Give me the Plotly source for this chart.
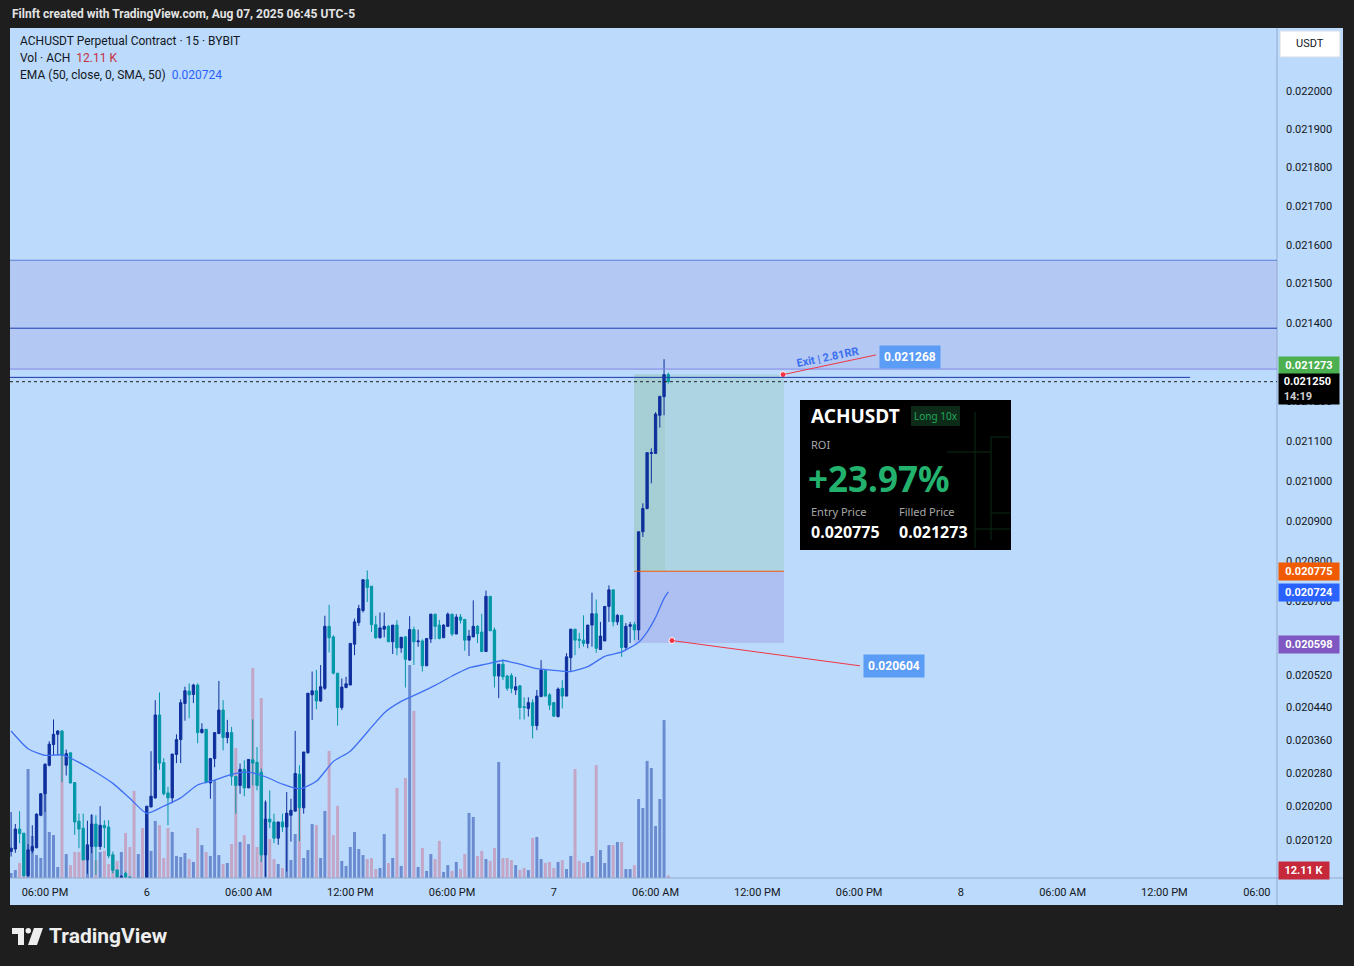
import math
import pandas as pd
import plotly.graph_objects as go

# ---- data (ACHUSDT perp, 15m, Bybit) ----
times = pd.date_range("2025-08-05 16:00", periods=156, freq="15min")

opens = [0.020092, 0.020098, 0.020146, 0.020136, 0.020034, 0.020094, 0.020101, 0.020179, 0.020231, 0.020300,
         0.020350, 0.020375, 0.020383, 0.020300, 0.020330, 0.020258, 0.020165, 0.020148, 0.020072, 0.020104,
         0.020158, 0.020104, 0.020155, 0.020151, 0.020084, 0.020048, 0.020029, 0.020040, 0.020031, 0.020018,
         0.020008, 0.020012, 0.020010, 0.020199, 0.020221, 0.020422, 0.020306, 0.020233, 0.020221, 0.020326,
         0.020362, 0.020450, 0.020480, 0.020472, 0.020495, 0.020379, 0.020387, 0.020257, 0.020316, 0.020377,
         0.020434, 0.020367, 0.020379, 0.020273, 0.020251, 0.020290, 0.020245, 0.020313, 0.020307, 0.020283,
         0.020084, 0.020170, 0.020163, 0.020124, 0.020163, 0.020151, 0.020179, 0.020189, 0.020278, 0.020197,
         0.020330, 0.020471, 0.020481, 0.020456, 0.020487, 0.020639, 0.020613, 0.020524, 0.020440, 0.020489,
         0.020495, 0.020595, 0.020648, 0.020678, 0.020754, 0.020738, 0.020643, 0.020611, 0.020632, 0.020639,
         0.020601, 0.020642, 0.020586, 0.020613, 0.020556, 0.020631, 0.020601, 0.020603, 0.020542, 0.020608,
         0.020669, 0.020642, 0.020611, 0.020639, 0.020669, 0.020620, 0.020662, 0.020656, 0.020605, 0.020613,
         0.020639, 0.020625, 0.020577, 0.020713, 0.020630, 0.020517, 0.020546, 0.020517, 0.020518, 0.020483,
         0.020493, 0.020442, 0.020438, 0.020452, 0.020396, 0.020467, 0.020530, 0.020471, 0.020452, 0.020418,
         0.020487, 0.020468, 0.020562, 0.020632, 0.020607, 0.020605, 0.020597, 0.020642, 0.020670, 0.020582,
         0.020603, 0.020688, 0.020729, 0.020650, 0.020666, 0.020587, 0.020639, 0.020643, 0.020630, 0.020873,
         0.020931, 0.021069, 0.021069, 0.021165, 0.021212, 0.021268]
highs = [0.020187, 0.020158, 0.020189, 0.020136, 0.020110, 0.020155, 0.020183, 0.020232, 0.020305, 0.020358,
         0.020411, 0.020385, 0.020385, 0.020338, 0.020330, 0.020258, 0.020183, 0.020183, 0.020166, 0.020182,
         0.020179, 0.020201, 0.020167, 0.020167, 0.020092, 0.020048, 0.020036, 0.020044, 0.020033, 0.020024,
         0.020022, 0.020025, 0.020201, 0.020334, 0.020458, 0.020477, 0.020317, 0.020248, 0.020327, 0.020375,
         0.020460, 0.020491, 0.020499, 0.020498, 0.020499, 0.020402, 0.020387, 0.020316, 0.020379, 0.020505,
         0.020458, 0.020410, 0.020393, 0.020273, 0.020304, 0.020312, 0.020314, 0.020411, 0.020344, 0.020292,
         0.020215, 0.020239, 0.020183, 0.020163, 0.020183, 0.020235, 0.020219, 0.020383, 0.020300, 0.020332,
         0.020475, 0.020528, 0.020532, 0.020544, 0.020665, 0.020692, 0.020617, 0.020524, 0.020511, 0.020515,
         0.020597, 0.020658, 0.020692, 0.020754, 0.020777, 0.020738, 0.020665, 0.020673, 0.020673, 0.020642,
         0.020642, 0.020654, 0.020613, 0.020615, 0.020664, 0.020638, 0.020631, 0.020607, 0.020609, 0.020669,
         0.020669, 0.020655, 0.020644, 0.020673, 0.020669, 0.020669, 0.020669, 0.020656, 0.020630, 0.020703,
         0.020642, 0.020670, 0.020727, 0.020713, 0.020636, 0.020546, 0.020558, 0.020520, 0.020524, 0.020515,
         0.020495, 0.020465, 0.020465, 0.020460, 0.020483, 0.020556, 0.020532, 0.020475, 0.020454, 0.020489,
         0.020507, 0.020573, 0.020632, 0.020632, 0.020623, 0.020666, 0.020642, 0.020722, 0.020705, 0.020650,
         0.020688, 0.020740, 0.020729, 0.020669, 0.020666, 0.020647, 0.020650, 0.020650, 0.020873, 0.020944,
         0.021071, 0.021082, 0.021173, 0.021213, 0.021307, 0.021273]
lows = [0.020080, 0.020089, 0.020112, 0.020032, 0.020032, 0.020088, 0.020100, 0.020177, 0.020187, 0.020297,
        0.020324, 0.020324, 0.020259, 0.020275, 0.020256, 0.020132, 0.020100, 0.020072, 0.020039, 0.020088,
        0.020036, 0.020096, 0.020100, 0.020076, 0.020040, 0.020028, 0.020024, 0.020024, 0.020010, 0.019995,
        0.019998, 0.020000, 0.020002, 0.020199, 0.020219, 0.020289, 0.020227, 0.020155, 0.020208, 0.020305,
        0.020305, 0.020408, 0.020414, 0.020451, 0.020353, 0.020377, 0.020256, 0.020219, 0.020295, 0.020375,
        0.020336, 0.020353, 0.020251, 0.020183, 0.020231, 0.020225, 0.020245, 0.020251, 0.020239, 0.020067,
        0.020032, 0.020148, 0.020112, 0.020108, 0.020139, 0.020044, 0.020116, 0.020189, 0.020117, 0.020183,
        0.020328, 0.020410, 0.020436, 0.020454, 0.020483, 0.020575, 0.020521, 0.020396, 0.020434, 0.020487,
        0.020495, 0.020568, 0.020640, 0.020673, 0.020699, 0.020625, 0.020608, 0.020609, 0.020612, 0.020601,
        0.020571, 0.020568, 0.020574, 0.020489, 0.020554, 0.020544, 0.020589, 0.020528, 0.020542, 0.020598,
        0.020607, 0.020607, 0.020611, 0.020638, 0.020615, 0.020620, 0.020646, 0.020579, 0.020566, 0.020613,
        0.020598, 0.020577, 0.020577, 0.020628, 0.020489, 0.020463, 0.020507, 0.020481, 0.020475, 0.020471,
        0.020411, 0.020411, 0.020418, 0.020365, 0.020385, 0.020465, 0.020467, 0.020434, 0.020418, 0.020416,
        0.020438, 0.020468, 0.020528, 0.020568, 0.020585, 0.020589, 0.020585, 0.020589, 0.020574, 0.020581,
        0.020603, 0.020650, 0.020639, 0.020642, 0.020564, 0.020581, 0.020598, 0.020605, 0.020605, 0.020860,
        0.020929, 0.020994, 0.021069, 0.021134, 0.021165, 0.021245]
closes = [0.020100, 0.020146, 0.020135, 0.020034, 0.020096, 0.020104, 0.020182, 0.020231, 0.020302, 0.020351,
          0.020375, 0.020383, 0.020324, 0.020328, 0.020257, 0.020163, 0.020146, 0.020072, 0.020108, 0.020158,
          0.020104, 0.020155, 0.020149, 0.020082, 0.020047, 0.020031, 0.020032, 0.020031, 0.020018, 0.020008,
          0.020012, 0.020010, 0.020201, 0.020225, 0.020422, 0.020305, 0.020231, 0.020221, 0.020327, 0.020362,
          0.020452, 0.020481, 0.020471, 0.020495, 0.020379, 0.020387, 0.020259, 0.020316, 0.020379, 0.020434,
          0.020367, 0.020379, 0.020273, 0.020251, 0.020290, 0.020245, 0.020314, 0.020305, 0.020251, 0.020084,
          0.020170, 0.020163, 0.020124, 0.020163, 0.020151, 0.020184, 0.020191, 0.020280, 0.020197, 0.020332,
          0.020475, 0.020481, 0.020456, 0.020491, 0.020639, 0.020611, 0.020524, 0.020440, 0.020490, 0.020498,
          0.020597, 0.020650, 0.020683, 0.020754, 0.020735, 0.020643, 0.020611, 0.020635, 0.020639, 0.020601,
          0.020642, 0.020586, 0.020612, 0.020558, 0.020631, 0.020601, 0.020603, 0.020542, 0.020609, 0.020669,
          0.020639, 0.020609, 0.020642, 0.020669, 0.020620, 0.020662, 0.020654, 0.020605, 0.020615, 0.020639,
          0.020621, 0.020577, 0.020713, 0.020628, 0.020517, 0.020546, 0.020515, 0.020487, 0.020487, 0.020491,
          0.020440, 0.020440, 0.020452, 0.020396, 0.020468, 0.020532, 0.020468, 0.020446, 0.020419, 0.020485,
          0.020468, 0.020564, 0.020632, 0.020605, 0.020605, 0.020597, 0.020642, 0.020670, 0.020585, 0.020615,
          0.020688, 0.020729, 0.020650, 0.020666, 0.020587, 0.020639, 0.020643, 0.020630, 0.020873, 0.020931,
          0.021071, 0.021071, 0.021168, 0.021213, 0.021268, 0.021250]
# volume in thousands of ACH
volumes_k = [24, 38, 72, 120, 523, 202, 110, 96, 533, 221, 206, 53, 696, 115, 62, 125, 125, 86, 86, 302,
             86, 125, 130, 67, 115, 82, 125, 216, 149, 418, 115, 240, 288, 130, 274, 254, 96, 240, 221, 106,
             101, 120, 91, 77, 240, 158, 125, 106, 470, 110, 67, 72, 163, 624, 173, 206, 163, 1008, 149, 864,
             365, 187, 91, 67, 48, 312, 86, 211, 341, 96, 134, 259, 254, 96, 322, 610, 206, 346, 82, 58,
             149, 221, 139, 110, 91, 96, 43, 48, 211, 72, 96, 432, 58, 480, 1022, 802, 53, 144, 34, 115,
             91, 178, 29, 62, 34, 77, 43, 115, 312, 293, 106, 130, 91, 82, 144, 557, 96, 96, 86, 62,
             38, 48, 38, 192, 197, 91, 72, 77, 48, 77, 86, 43, 106, 523, 82, 72, 77, 106, 542, 134,
             72, 158, 158, 173, 173, 43, 43, 62, 379, 336, 562, 528, 250, 379, 758, 12.11]
# EMA(50) read at every 4th bar
ema_idx = list(range(0, 149, 4)) + [150, 152, 154, 155]
ema_vals = [0.020383, 0.020340, 0.020324, 0.020325, 0.020307, 0.020283, 0.020256, 0.020220, 0.020184, 0.020201,
            0.020221, 0.020252, 0.020264, 0.020278, 0.020283, 0.020272, 0.020254, 0.020243, 0.020261, 0.020309,
            0.020334, 0.020380, 0.020427, 0.020455, 0.020474, 0.020494, 0.020517, 0.020537, 0.020546, 0.020555,
            0.020546, 0.020535, 0.020531, 0.020528, 0.020540, 0.020565, 0.020576, 0.020600, 0.020625, 0.020661,
            0.020708, 0.020724]

price_ticks = [0.02012, 0.0202, 0.02028, 0.02036, 0.02044, 0.02052, 0.0207, 0.0208, 0.0209, 0.021,
               0.0211, 0.0212, 0.0214, 0.0215, 0.0216, 0.0217, 0.0218, 0.0219, 0.022]
time_ticks = ["2025-08-05 18:00", "2025-08-06 00:00", "2025-08-06 06:00", "2025-08-06 12:00",
              "2025-08-06 18:00", "2025-08-07 00:00", "2025-08-07 06:00", "2025-08-07 12:00",
              "2025-08-07 18:00", "2025-08-08 00:00", "2025-08-08 06:00", "2025-08-08 12:00",
              "2025-08-08 18:00"]
time_labels = ["06:00 PM", "6", "06:00 AM", "12:00 PM", "06:00 PM", "7", "06:00 AM", "12:00 PM",
               "06:00 PM", "8", "06:00 AM", "12:00 PM", "06:00\u2007\u2007\u2007"]

entry_price = 0.020775
exit_price = 0.021268
filled_price = 0.021273
stop_price = 0.020604
stop_zone_low = 0.020598
last_price = 0.021250
ema_last = 0.020724
zone_top, zone_mid, zone_bottom = 0.021560, 0.021386, 0.021282
ray_price = 0.021261

UP = "#0e2f9c"
DOWN = "#0097a7"
VOL_UP = "#6a8bd0"
VOL_DOWN = "#c3a5c6"
PANEL = "#bbdafc"
DARK = "#1e1e1e"
TXT = "#131722"
FONT = "Roboto"

# pane in pixels: x 10..1277, y 28..878
def px(x):
    return (x - 10) / 1267


def py(y):
    return (878 - y) / 850


fig = go.Figure()

vol_colors = [VOL_UP if c >= o else VOL_DOWN for o, c in zip(opens, closes)]
fig.add_trace(go.Bar(x=times, y=volumes_k, marker=dict(color=vol_colors, line=dict(width=0)),
                     width=630000, yaxis="y", hoverinfo="skip"))

fig.add_trace(go.Candlestick(
    x=times, open=opens, high=highs, low=lows, close=closes, yaxis="y2",
    increasing=dict(line=dict(color=UP, width=1), fillcolor=UP),
    decreasing=dict(line=dict(color=DOWN, width=1), fillcolor=DOWN),
    whiskerwidth=0,
))

fig.add_trace(go.Scatter(x=times[ema_idx], y=ema_vals, mode="lines", yaxis="y2",
                         line=dict(color="#3f6ff2", width=1.3, shape="spline", smoothing=0.6),
                         hoverinfo="skip"))

# exit / stop points of the position tool
fig.add_trace(go.Scatter(x=["2025-08-07 13:31", "2025-08-07 06:58"], y=[exit_price, stop_price],
                         mode="markers", yaxis="y2",
                         marker=dict(color="#f23645", size=6, line=dict(color="white", width=1))))

shapes = [
    # whole chart panel incl. scales
    dict(type="rect", xref="paper", yref="paper", x0=px(10), x1=px(1343), y0=py(905), y1=py(28),
         fillcolor=PANEL, line=dict(width=0), layer="below"),
    dict(type="line", xref="paper", yref="paper", x0=1, x1=1, y0=py(905), y1=1,
         line=dict(color="#93aacb", width=1)),
    dict(type="line", xref="paper", yref="paper", x0=0, x1=px(1343), y0=0, y1=0,
         line=dict(color="#93aacb", width=1)),
    # supply zone
    dict(type="rect", xref="paper", yref="y2", x0=0, x1=1, y0=zone_bottom, y1=zone_top,
         fillcolor="#b3c8f3", line=dict(width=0), layer="below"),
    dict(type="line", xref="paper", yref="y2", x0=0, x1=1, y0=zone_top, y1=zone_top,
         line=dict(color="#5b7ddf", width=1)),
    dict(type="line", xref="paper", yref="y2", x0=0, x1=1, y0=zone_mid, y1=zone_mid,
         line=dict(color="#1d3db5", width=1)),
    dict(type="line", xref="paper", yref="y2", x0=0, x1=1, y0=zone_bottom, y1=zone_bottom,
         line=dict(color="#8184e4", width=1)),
    dict(type="line", xref="x", yref="y2", x0="2025-08-05 15:50", x1="2025-08-08 13:31",
         y0=ray_price, y1=ray_price, line=dict(color="#1a38a6", width=1)),
    dict(type="line", xref="paper", yref="y2", x0=0, x1=1, y0=last_price, y1=last_price,
         line=dict(color="#222222", width=1, dash="dot")),
    # long position tool
    dict(type="rect", xref="x", yref="y2", x0="2025-08-07 04:44", x1="2025-08-07 13:34",
         y0=entry_price, y1=exit_price, fillcolor="#acd4e3", line=dict(width=0), layer="below"),
    dict(type="rect", xref="x", yref="y2", x0="2025-08-07 04:44", x1="2025-08-07 06:33",
         y0=entry_price, y1=exit_price, fillcolor="#a5cfd4", line=dict(width=0), layer="below"),
    dict(type="rect", xref="x", yref="y2", x0="2025-08-07 04:44", x1="2025-08-07 13:34",
         y0=stop_zone_low, y1=entry_price, fillcolor="#aebff1", line=dict(width=0), layer="below"),
    dict(type="line", xref="x", yref="y2", x0="2025-08-07 04:44", x1="2025-08-07 13:34",
         y0=entry_price, y1=entry_price, line=dict(color="#f05a00", width=1)),
    dict(type="line", xref="x", yref="y2", x0="2025-08-07 13:31", x1="2025-08-07 19:00",
         y0=exit_price, y1=0.021318, line=dict(color="#f23645", width=1)),
    dict(type="line", xref="x", yref="y2", x0="2025-08-07 06:58", x1="2025-08-07 18:03",
         y0=stop_price, y1=0.020542, line=dict(color="#f23645", width=1)),
    # ROI card
    dict(type="rect", xref="paper", yref="paper", x0=px(800), x1=px(1011), y0=py(550), y1=py(400),
         fillcolor="#000000", line=dict(width=0)),
    dict(type="rect", xref="paper", yref="paper", x0=px(911), x1=px(960), y0=py(426), y1=py(406),
         fillcolor="#0e2a19", line=dict(width=0)),
    # USDT box
    dict(type="rect", xref="paper", yref="paper", x0=px(1280), x1=px(1340), y0=py(57), y1=py(31),
         fillcolor="#ffffff", line=dict(color="#d5dde8", width=1)),
]
# faint grid inside the card
for x0, y0, x1, y1 in [(975, 412, 975, 548), (991, 437, 991, 540), (991, 437, 1010, 437),
                       (947, 452, 991, 452), (991, 513, 1010, 513), (975, 529, 1010, 529)]:
    shapes.append(dict(type="line", xref="paper", yref="paper", x0=px(x0), x1=px(x1), y0=py(y0), y1=py(y1),
                       line=dict(color="#0b2a14", width=1)))


def poly(points):
    return "M " + " L ".join(f"{px(x):.5f},{py(y):.5f}" for x, y in points) + " Z"


# TradingView logo
shapes.append(dict(type="path", xref="paper", yref="paper", fillcolor="#eeeeee", line=dict(width=0),
                   path=poly([(12, 928), (24, 928), (24, 945), (18, 945), (18, 934), (12, 934)])))
shapes.append(dict(type="circle", xref="paper", yref="paper", fillcolor="#eeeeee", line=dict(width=0),
                   x0=px(25.5), x1=px(31), y0=py(933.5), y1=py(928)))
shapes.append(dict(type="path", xref="paper", yref="paper", fillcolor="#eeeeee", line=dict(width=0),
                   path=poly([(34, 928), (43, 928), (37, 945), (28, 945)])))


def note(x, y, text, size=12, color=TXT, xanchor="left", bold=False, family=FONT, **kw):
    return dict(xref="paper", yref="paper", x=px(x), y=py(y), text=f"<b>{text}</b>" if bold else text,
                showarrow=False, xanchor=xanchor, yanchor="middle",
                font=dict(family=family, size=size, color=color), **kw)


def price_tag(price, text, bg, yshift=0, width=56, height=None, ref="y2", align="center"):
    return dict(xref="paper", yref=ref, x=1, y=math.log10(price) if ref == "y2" else price,
                xanchor="left", yanchor="middle", xshift=1, yshift=yshift, text=f"<b>{text}</b>",
                showarrow=False, bgcolor=bg, borderpad=2, width=width, height=height, align=align,
                font=dict(family=FONT, size=11, color="#ffffff"))


annotations = [
    note(10, 14, "Filnft created with TradingView.com, Aug 07, 2025 06:45 UTC-5", size=12, color="#e3e3e3",
         bold=True),
    note(18, 41, "ACHUSDT Perpetual Contract · 15 · BYBIT"),
    note(18, 58, "Vol · ACH  <span style='color:#c7303f'>12.11 K</span>"),
    note(18, 75, f"EMA (50, close, 0, SMA, 50)  <span style='color:#2962ff'>{ema_last:.6f}</span>"),
    note(1310, 44, "USDT", size=11, xanchor="center"),
    # price scale tags
    price_tag(filled_price, f"{filled_price:.6f}", "#4caf50", yshift=7),
    price_tag(last_price, f"\u00a0{last_price:.6f}<br>\u00a0<span style='color:#d0d0d0'>14:19</span>",
              "#000000", yshift=-7, height=26, align="left"),
    price_tag(entry_price, f"{entry_price:.6f}", "#f05a00"),
    price_tag(ema_last, f"{ema_last:.6f}", "#2962ff", yshift=-1),
    price_tag(stop_zone_low, f"{stop_zone_low:.6f}", "#7e57c2", yshift=-1),
    price_tag(volumes_k[-1], f"{volumes_k[-1]:.2f} K", "#c62a3a", yshift=5, width=46, ref="y"),
    # position tool labels
    note(910, 357, f"<b>{exit_price:.6f}</b>", size=12, color="#ffffff", xanchor="center",
         bgcolor="#5b9cf6", borderpad=4),
    note(894, 666, f"<b>{stop_price:.6f}</b>", size=12, color="#ffffff", xanchor="center",
         bgcolor="#5b9cf6", borderpad=4),
    note(827, 357, "<b>Exit | 2.81RR</b>", size=11, color="#3a6ff0", xanchor="center", textangle=-11.5),
    # ROI card
    note(809, 416, "ACHUSDT", size=19, color="#ffffff", bold=True, family="Noto Sans"),
    note(935.5, 416, "Long 10x", size=10, color="#23a85b", xanchor="center", family="Noto Sans"),
    note(809, 444, "ROI", size=11, color="#a8a8a8", family="Noto Sans"),
    note(806, 478, "+23.97%", size=35, color="#22b26e", bold=True, family="Noto Sans"),
    note(809, 512, "Entry Price", size=11, color="#a8a8a8", family="Noto Sans"),
    note(897, 512, "Filled Price", size=11, color="#a8a8a8", family="Noto Sans"),
    note(809, 532, f"{entry_price:.6f}", size=16, color="#ffffff", bold=True, family="Noto Sans"),
    note(897, 532, f"{filled_price:.6f}", size=16, color="#ffffff", bold=True, family="Noto Sans"),
    # footer
    note(47, 936, "TradingView", size=21, color="#eeeeee", bold=True),
]

fig.update_layout(
    width=1354, height=966,
    margin=dict(l=10, r=77, t=28, b=88),
    paper_bgcolor=DARK, plot_bgcolor=PANEL,
    showlegend=False, boxgap=0.22, hovermode=False,
    font=dict(family=FONT, size=11, color=TXT),
    shapes=shapes, annotations=annotations,
    xaxis=dict(type="date", range=["2025-08-05 15:56:06", "2025-08-08 18:38:30"],
               tickvals=time_ticks, ticktext=time_labels, showgrid=False, zeroline=False,
               showline=False, ticks="", ticklabelstandoff=6, tickfont=dict(size=11, color=TXT),
               rangeslider=dict(visible=False)),
    yaxis=dict(range=[0, 4080], visible=False, showgrid=False, fixedrange=True),
    yaxis2=dict(type="log", overlaying="y", side="right",
                range=[math.log10(0.0200287), math.log10(0.0221656)],
                tickvals=price_ticks, ticktext=[f"{v:.6f}" for v in price_ticks],
                showgrid=False, zeroline=False, showline=False, ticks="", ticklabelstandoff=8,
                tickfont=dict(size=11, color=TXT)),
)

# drop the page's default 8px body margin so the figure sits at the window's corner
fig.write_html("out.html", config={"displayModeBar": False},
               post_script="document.body.style.margin='0';"
                           "document.body.style.background='#1e1e1e';")
